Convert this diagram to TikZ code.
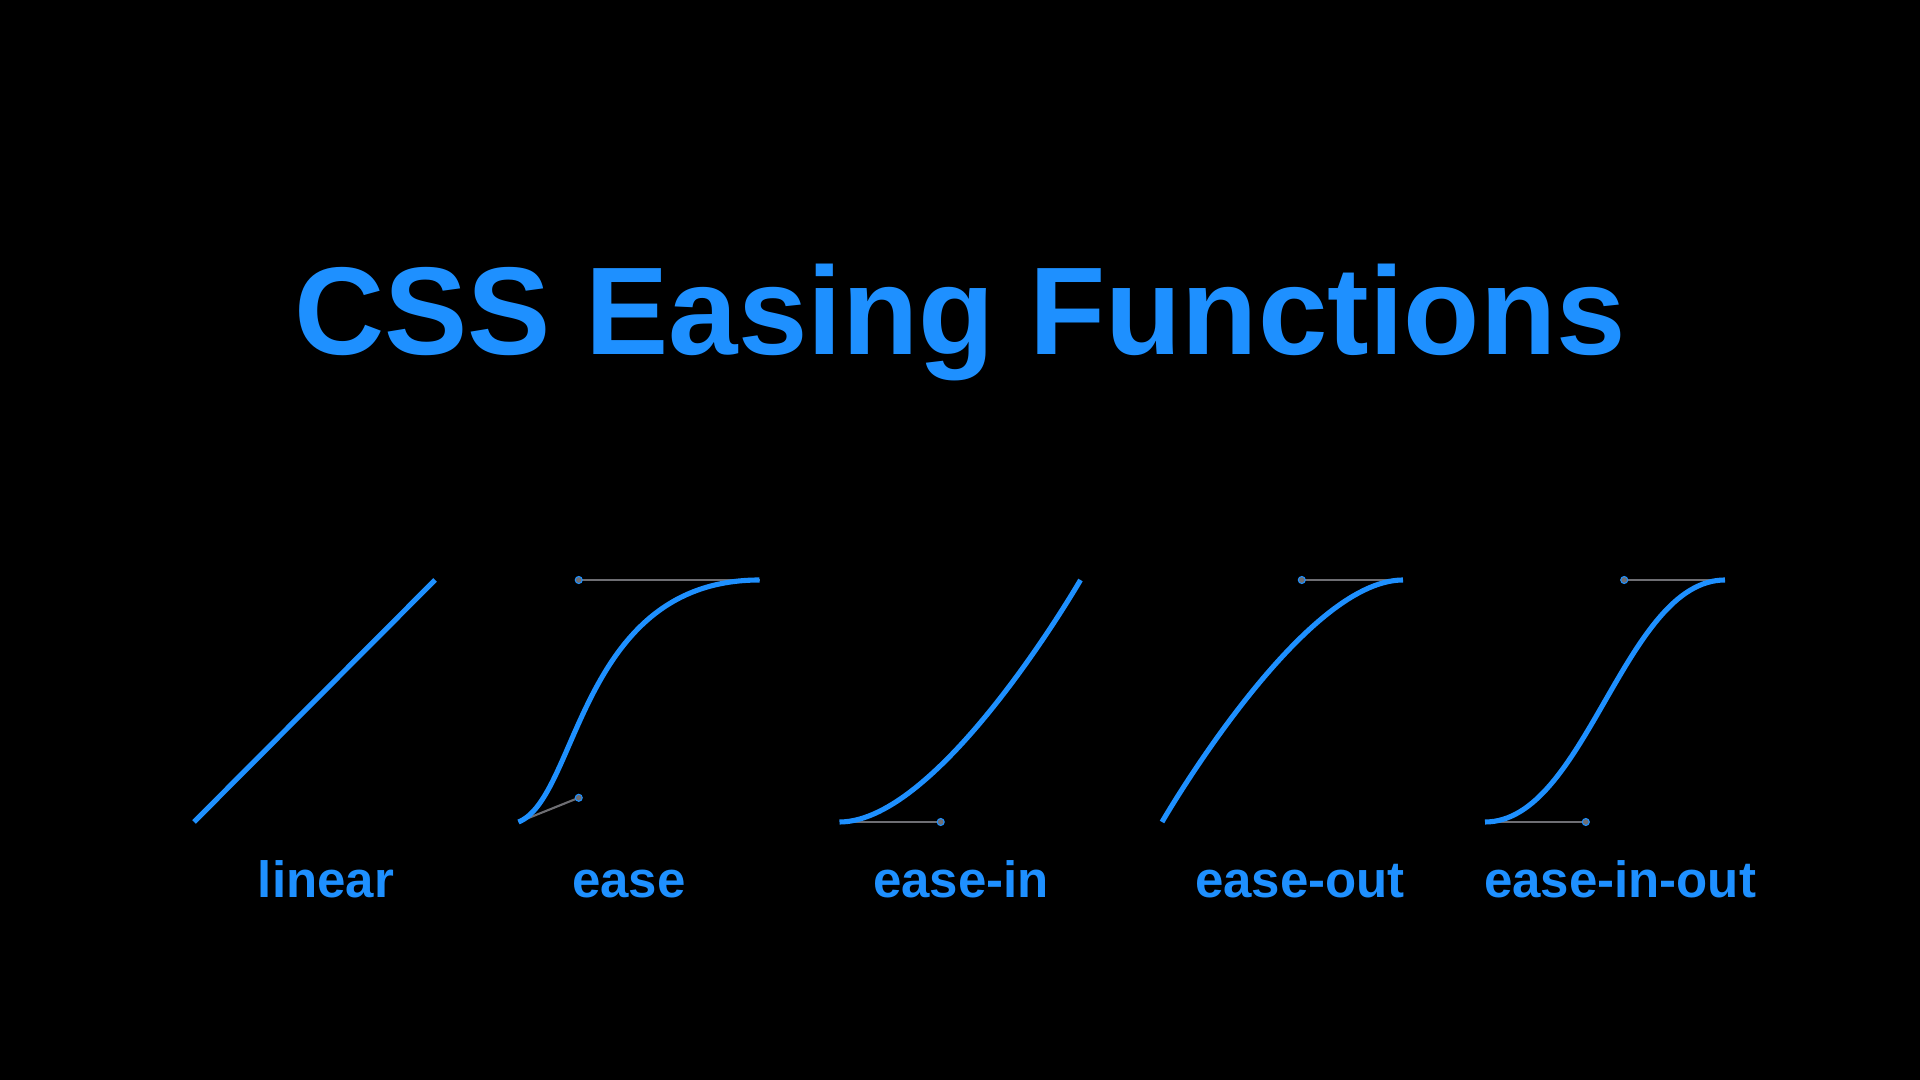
\documentclass[tikz,border=0pt]{standalone}
\usepackage{fontspec}
\setmainfont{Liberation Sans}
\definecolor{cssblue}{RGB}{30,144,255}
\definecolor{handlegray}{RGB}{110,110,115}
\begin{document}
\begin{tikzpicture}[x=0.01cm,y=-0.01cm,
  curve/.style={draw=cssblue,line width=1.45pt},
  handle/.style={draw=handlegray,line width=0.6pt},
  knob/.style={circle,fill=handlegray,draw=cssblue,line width=0.3pt,inner sep=0pt,minimum size=0.07cm},
  label/.style={anchor=base,text=cssblue,font=\fontsize{14.5}{17}\selectfont\bfseries,inner sep=0pt}]
\fill[black] (0,0) rectangle (1920,1080);
\useasboundingbox (0,0) rectangle (1920,1080);
\node[anchor=base,text=cssblue,font=\fontsize{35.5}{40}\selectfont\bfseries,inner sep=0pt] (title) at (960,355) {CSS Easing Functions};
% linear
\coordinate (l0) at (194,822); \coordinate (l1) at (435,580);
\draw[curve] (l0) -- (l1);
\node[label] (ll) at (326,898) {linear};
% ease: cubic-bezier(0.25,0.1,0.25,1)
\coordinate (e0) at (518.5,822); \coordinate (e1) at (759.5,580);
\coordinate (ec1) at (578.75,797.8); \coordinate (ec2) at (578.75,580);
\draw[handle] (e0) -- (ec1);
\draw[handle] (e1) -- (ec2);
\draw[curve] (e0) .. controls (ec1) and (ec2) .. (e1);
\node[knob] (ek1) at (ec1) {};
\node[knob] (ek2) at (ec2) {};
\node[label] (el) at (629,898) {ease};
% ease-in: cubic-bezier(0.42,0,1,1)
\coordinate (i0) at (839.5,822); \coordinate (i1) at (1080.5,580);
\coordinate (ic1) at (940.7,822);
\draw[handle] (i0) -- (ic1);
\draw[curve] (i0) .. controls (ic1) and (i1) .. (i1);
\node[knob] (ik1) at (ic1) {};
\node[label] (il) at (961,898) {ease-in};
% ease-out: cubic-bezier(0,0,0.58,1)
\coordinate (o0) at (1162,822); \coordinate (o1) at (1403,580);
\coordinate (oc2) at (1301.8,580);
\draw[handle] (o1) -- (oc2);
\draw[curve] (o0) .. controls (o0) and (oc2) .. (o1);
\node[knob] (ok2) at (oc2) {};
\node[label] (ol) at (1300,898) {ease-out};
% ease-in-out: cubic-bezier(0.42,0,0.58,1)
\coordinate (io0) at (1485,822); \coordinate (io1) at (1725,580);
\coordinate (ioc1) at (1585.8,822); \coordinate (ioc2) at (1624.2,580);
\draw[handle] (io0) -- (ioc1);
\draw[handle] (io1) -- (ioc2);
\draw[curve] (io0) .. controls (ioc1) and (ioc2) .. (io1);
\node[knob] (iok1) at (ioc1) {};
\node[knob] (iok2) at (ioc2) {};
\node[label] (iol) at (1620,898) {ease-in-out};
\end{tikzpicture}
\end{document}
